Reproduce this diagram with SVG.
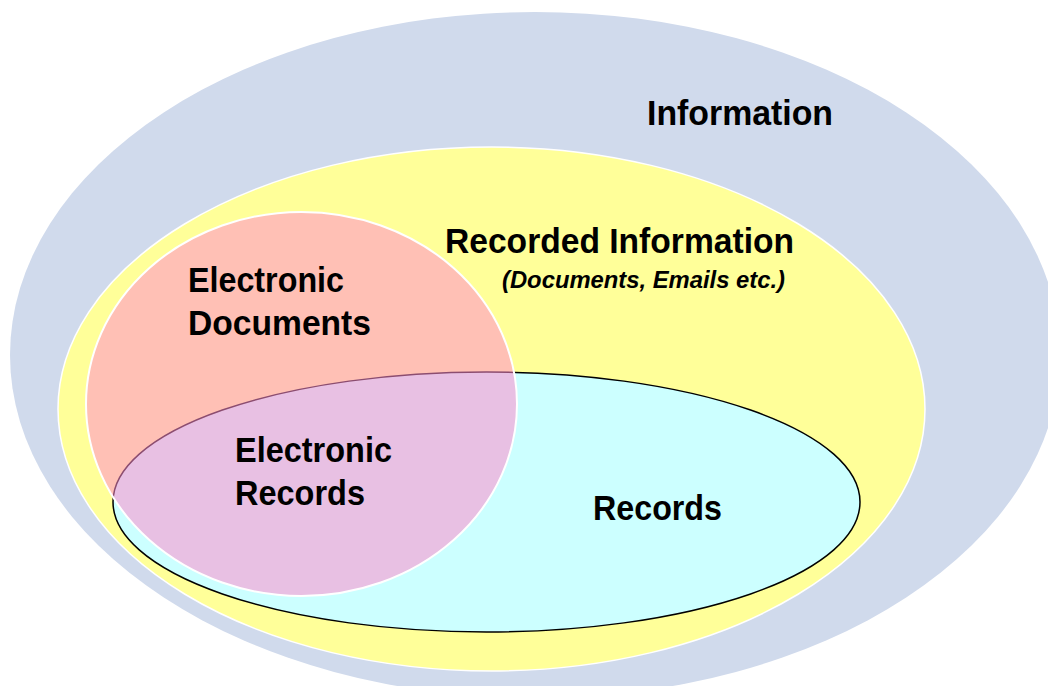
<svg xmlns="http://www.w3.org/2000/svg" width="1048" height="686" viewBox="0 0 1048 686">
<style>
.lbl{font-family:"Liberation Sans",Arial,sans-serif;font-weight:bold;font-size:35px;fill:#000}
.sub{font-family:"Liberation Sans",Arial,sans-serif;font-weight:bold;font-style:italic;font-size:24px;fill:#000}
</style>
<rect width="1048" height="686" fill="#fff"/>
<g id="information">
<ellipse cx="535" cy="355" rx="525" ry="343" fill="#D0DAEC"/>
<text class="lbl" x="647" y="125" textLength="186" lengthAdjust="spacingAndGlyphs">Information</text>
</g>
<g id="recorded-information">
<ellipse cx="491.5" cy="409" rx="433.5" ry="262" fill="#FFFF99" stroke="#fff" stroke-width="1.5"/>
<text class="lbl" x="445" y="253" textLength="349" lengthAdjust="spacingAndGlyphs">Recorded Information</text>
<text class="sub" x="502" y="288" textLength="283" lengthAdjust="spacingAndGlyphs">(Documents, Emails etc.)</text>
</g>
<g id="records">
<ellipse cx="486.5" cy="502" rx="373.5" ry="130" fill="#CCFFFF" stroke="#000" stroke-width="1.5"/>
<text class="lbl" x="593" y="520" textLength="129" lengthAdjust="spacingAndGlyphs">Records</text>
</g>
<g id="electronic-documents">
<ellipse cx="301.5" cy="404" rx="215.5" ry="192" fill="#FF8CCC" fill-opacity="0.55" stroke="#fff" stroke-width="2"/>
<text class="lbl" x="188" y="292" textLength="156" lengthAdjust="spacingAndGlyphs">Electronic</text>
<text class="lbl" x="188" y="335" textLength="183" lengthAdjust="spacingAndGlyphs">Documents</text>
</g>
<g id="electronic-records">
<text class="lbl" x="235" y="462" textLength="157" lengthAdjust="spacingAndGlyphs">Electronic</text>
<text class="lbl" x="235" y="505" textLength="130" lengthAdjust="spacingAndGlyphs">Records</text>
</g>
<g id="connectors"/>
</svg>
